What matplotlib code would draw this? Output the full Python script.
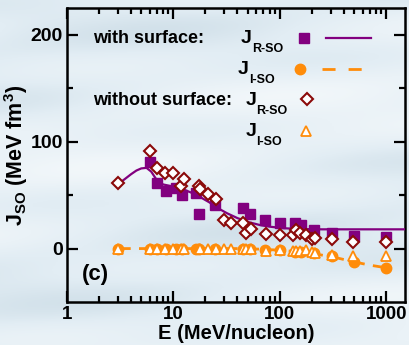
import numpy as np
import matplotlib.pyplot as plt
from matplotlib.colors import LinearSegmentedColormap

plt.rcParams['font.family'] = 'Liberation Sans'
plt.rcParams['font.weight'] = 'bold'
plt.rcParams['axes.labelweight'] = 'bold'
plt.rcParams['mathtext.fontset'] = 'custom'
plt.rcParams['mathtext.rm'] = 'Liberation Sans:bold'
plt.rcParams['mathtext.bf'] = 'Liberation Sans:bold'

# with surface: J_R-SO (squares)
E_sq = [6, 7, 8.5, 10.5, 12, 16.5, 17.6, 24.5, 45.5, 53, 73, 100, 140, 158, 210, 310, 500, 1000]
J_sq = [81, 61, 54, 57, 50, 52, 32, 41, 37.5, 32, 27, 24, 24, 22.5, 17, 15, 12, 11]

# with surface: J_I-SO (circles)
E_ci = [3, 6, 7, 8.5, 10.5, 12, 16.5, 17.6, 24.5, 45.5, 53, 73, 100, 140, 158, 210, 310, 500, 1000]
J_ci = [0, 0, 0, 0, 0, 0, 0, 0, 0, 0, 0, -1, -1.5, -3, -3, -4, -7, -12.5, -18]

# without surface: J_R-SO (diamonds)
E_di = [3, 6, 7, 8.4, 10, 11.9, 12.5, 17.3, 17.9, 21, 25, 30, 35, 45.5, 48.5, 54,
        74, 100, 133, 142, 156, 178, 201, 216, 310, 490, 985]
J_di = [61, 91.5, 75, 71, 71, 59, 65, 58.5, 55.5, 51.5, 46, 27, 23.5, 23.5, 15, 18,
        14, 12.5, 12.5, 17, 15, 13, 8.5, 9.5, 8.5, 6.5, 6.5]

# without surface: J_I-SO (triangles)
E_tr = [3, 6, 7, 8.4, 10, 11.9, 12.5, 17.3, 17.9, 21, 25, 30, 35, 45.5, 48.5, 54,
        74, 100, 133, 142, 156, 178, 201, 216, 310, 490, 985]
J_tr = [0, 0, 0, 0, 0, 0, 0, 0, 0, 0, 0, 0, 0, 0, 0, 0,
        -2, -1, -2, -2.5, -2.5, -1.5, -3.5, -4.5, -6, -6.5, -6.5]

# fitted curves
E_fr = [3, 3.5, 4, 4.5, 5, 5.6, 6.2, 7, 8, 10, 12, 15, 18, 22, 26, 32, 40, 52, 65, 80,
        110, 155, 250, 500, 1000, 1500]
J_fr = [60, 65, 69.5, 73, 75, 75.5, 72, 64, 60, 58, 56, 52, 48, 43, 38, 33, 28.5, 24.5,
        22, 20.5, 19, 18.3, 18, 18, 18, 18]
E_fi = [3, 20, 50, 100, 150, 200, 320, 500, 700, 1000]
J_fi = [0, 0, 0, -1.5, -3, -4.5, -8, -12.5, -15.5, -18]

purple = '#82007f'
darkred = '#8b0a0a'
orange = '#ff8c0a'

fig = plt.figure(figsize=(4.1, 3.45), dpi=100)

# soft bluish backdrop
bg = fig.add_axes([0, 0, 1, 1], zorder=-10)
yy, xx = np.mgrid[0:1:200j, 0:1:200j]
tex = (0.5 * np.sin(9 * yy + 2.5 * xx) + 0.35 * np.sin(23 * yy - 4 * xx + 1.0)
       + 0.25 * np.sin(41 * yy + 6 * xx + 2.0))
cmap = LinearSegmentedColormap.from_list('bgc', ['#f2f7fa', '#e2edf4', '#c9dae4'])
bg.imshow(tex, cmap=cmap, aspect='auto', extent=[0, 1, 0, 1], vmin=-1.1, vmax=1.6)
bg.axis('off')

ax = fig.add_axes([0.163, 0.1246, 0.825, 0.852])
ax.patch.set_alpha(0)

ax.plot(E_fr, J_fr, color=purple, lw=1.6, zorder=3)
ax.plot(E_fi, J_fi, color=orange, lw=2, ls=(0, (4.7, 3)), zorder=3)
ax.plot(E_ci, J_ci, 'o', color=orange, ms=7.5, zorder=4)
ax.plot(E_sq, J_sq, 's', color=purple, ms=7.5, zorder=4)
ax.plot(E_tr, J_tr, '^', mfc='white', mec=orange, mew=1.3, ms=7.5, zorder=5)
ax.plot(E_di, J_di, 'D', mfc='white', mec=darkred, mew=1.5, ms=6.5, zorder=5)

ax.set_xscale('log')
ax.set_xlim(1, 1500)
ax.set_ylim(-50, 225)
ax.set_yticks([0, 100, 200])
ax.set_yticks([50, 150], minor=True)
ax.tick_params(which='both', direction='in', top=True, right=True, width=1.6,
               labelsize=14)
ax.tick_params(which='major', length=8)
ax.tick_params(which='minor', length=4.5)
ax.tick_params(axis='x', pad=3, labelsize=13.5)
ax.tick_params(axis='y', pad=3)
ax.set_xticks([1, 10, 100, 1000])
ax.set_xticklabels(['1', '10', '100', '1000'])
for s in ax.spines.values():
    s.set_linewidth(1.8)

ax.set_xlabel('E (MeV/nucleon)', fontsize=14.5)
ax.xaxis.set_label_coords(0.5, -0.076)
ax.set_ylabel(r'J$_{\mathbf{SO}}$ (MeV fm$^{\mathbf{3}}$)', fontsize=15.5, labelpad=0)

ax.text(0.044, 0.092, '(c)', transform=ax.transAxes, fontsize=16, va='center')

# legend block
t = ax.transAxes
ax.text(0.078, 0.895, 'with surface:', transform=t, fontsize=13, va='center')
ax.text(0.515, 0.898, 'J', transform=t, fontsize=14, va='center')
ax.text(0.548, 0.862, 'R-SO', transform=t, fontsize=9, va='center')
ax.plot([0.700], [0.897], 's', color=purple, ms=7, transform=t)
ax.plot([0.767, 0.899], [0.897, 0.897], color=purple, lw=1.6, transform=t)

ax.text(0.505, 0.792, 'J', transform=t, fontsize=14, va='center')
ax.text(0.538, 0.756, 'I-SO', transform=t, fontsize=9, va='center')
ax.plot([0.690], [0.792], 'o', color=orange, ms=7.5, transform=t)
ax.plot([0.754, 0.872], [0.792, 0.792], color=orange, lw=2, ls=(0, (4.7, 4.7)),
        transform=t)

ax.text(0.078, 0.687, 'without surface:', transform=t, fontsize=13, va='center')
ax.text(0.528, 0.687, 'J', transform=t, fontsize=14, va='center')
ax.text(0.561, 0.651, 'R-SO', transform=t, fontsize=9, va='center')
ax.plot([0.709], [0.689], 'D', mfc='white', mec=darkred, mew=1.5, ms=6, transform=t)

ax.text(0.528, 0.580, 'J', transform=t, fontsize=14, va='center')
ax.text(0.561, 0.544, 'I-SO', transform=t, fontsize=9, va='center')
ax.plot([0.707], [0.582], '^', mfc='white', mec=orange, mew=1.3, ms=7, transform=t)

fig.savefig('out.png', dpi=100)
